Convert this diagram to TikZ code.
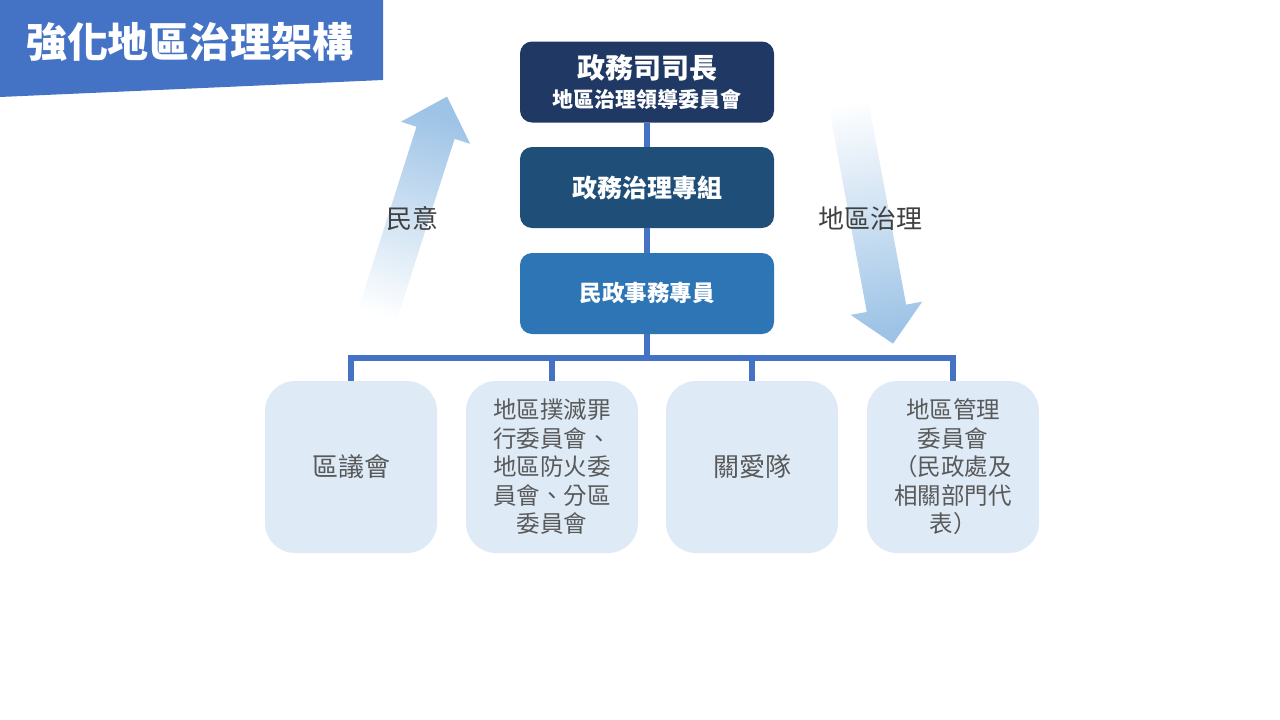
\documentclass[tikz,border=0pt]{standalone}
\usepackage{fontspec}
\setmainfont{Noto Sans CJK TC}
\usetikzlibrary{positioning,calc}

\definecolor{bannerblue}{HTML}{4472C4}
\definecolor{headnavy}{HTML}{203864}
\definecolor{teamblue}{HTML}{1F4E79}
\definecolor{officerblue}{HTML}{2E75B6}
\definecolor{unitfill}{HTML}{DEEBF7}
\definecolor{unittext}{HTML}{595959}
\definecolor{arrowblue}{HTML}{9DC3E6}
\definecolor{labelgray}{HTML}{404040}

\begin{document}
\begin{tikzpicture}[x=1pt, y=1pt,
  topbox/.style={rounded corners=12pt, minimum width=254pt, minimum height=81pt, text=white, align=center},
  unitbox/.style={fill=unitfill, rounded corners=30pt, minimum width=172pt, minimum height=172pt, text=unittext, align=center, font=\fontsize{23.5}{28.5}\selectfont},
  link/.style={draw=bannerblue, line width=6pt},
  flowlabel/.style={text=labelgray, font=\fontsize{26}{30}\selectfont}]
  \useasboundingbox (0,0) rectangle (1280,-720);

  % 標題
  \fill[bannerblue] (0,0) -- (383,0) -- (383,-80) -- (0,-97) -- cycle;
  \node[text=white, font=\fontsize{41}{44}\selectfont\bfseries] (title) at (190,-42) {強化地區治理架構};

  % 兩個箭頭
  \begin{scope}[shift={(372.6,-330)}, rotate=-17.7]
    \shade[top color=arrowblue, bottom color=white, shading angle=-17.7]
      (-20,0) -- (20,0) -- (20,207) -- (36.4,207) -- (0,245) -- (-36.4,207) -- (-20,207) -- cycle;
  \end{scope}
  \begin{scope}[shift={(846,-90)}, rotate=190.5]
    \shade[top color=arrowblue, bottom color=white, shading angle=190.5]
      (-20,0) -- (20,0) -- (20,222) -- (36.4,222) -- (0,258) -- (-36.4,222) -- (-20,222) -- cycle;
  \end{scope}
  \node[flowlabel] (voice) at (412,-219) {民意};
  \node[flowlabel] (govern) at (870,-219) {地區治理};

  % 上層
  \node[topbox, fill=headnavy, font=\bfseries] (head) at (647,-82)
    {\fontsize{28}{32}\selectfont 政務司司長\\[7pt]\fontsize{21}{24}\selectfont 地區治理領導委員會};
  \node[topbox, fill=teamblue, font=\fontsize{25}{30}\selectfont\bfseries] (team) at (647,-187.5) {政務治理專組};
  \node[topbox, fill=officerblue, font=\fontsize{22.5}{28}\selectfont\bfseries] (officer) at (647,-293.5) {民政事務專員};

  % 下層
  \node[unitbox, font=\fontsize{26}{30}\selectfont] (council) at (351,-467) {區議會};
  \node[unitbox] (fight) at (552,-467) {地區撲滅罪\\行委員會、\\地區防火委\\員會、分區\\委員會};
  \node[unitbox, font=\fontsize{26}{30}\selectfont] (care) at (752,-467) {關愛隊};
  \node[unitbox] (dmc) at (953,-467) {地區管理\\委員會\\（民政處及\\相關部門代\\表）};

  % 連線
  \coordinate (bus) at (0,-358);
  \draw[link] (head) -- (team);
  \draw[link] (team) -- (officer);
  \draw[link] (officer.south) -- (officer.south |- bus);
  \draw[link] (council.north) -- (council.north |- bus) -- (dmc.north |- bus) -- (dmc.north);
  \draw[link] (fight.north) -- (fight.north |- bus);
  \draw[link] (care.north) -- (care.north |- bus);
\end{tikzpicture}
\end{document}
